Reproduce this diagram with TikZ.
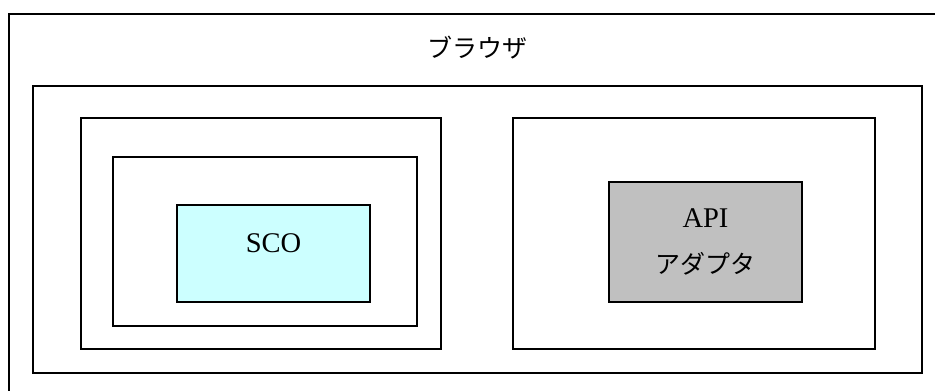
\documentclass[tikz,border=0pt]{standalone}
\usepackage{fontspec}
\setmainfont{Liberation Serif}
\newfontfamily\jpfont{Noto Sans CJK JP}
\definecolor{scofill}{HTML}{CCFFFF}
\definecolor{apifill}{HTML}{C0C0C0}
\begin{document}
\begin{tikzpicture}[x=1pt,y=-1pt,
  frame/.style={draw=black,line width=1.6pt},
  lat/.style={font=\fontsize{28.5}{32}\selectfont},
  jp/.style={font=\jpfont\fontsize{25}{28}\selectfont}]
\useasboundingbox (0,0) rectangle (935,391);
\fill[white] (0,0) rectangle (935,391);
\begin{scope}
\clip (0,0) rectangle (935,391);
\draw[frame] (9,14) rectangle (945,400);
\end{scope}
\node[jp,anchor=center] (browser) at (477,48) {ブラウザ};
\draw[frame] (33,86) rectangle (922,373);
\draw[frame] (81,118) rectangle (441,349);
\draw[frame] (113,157) rectangle (417,326);
\draw[frame,fill=scofill] (177,205) rectangle (370,302);
\node[lat] (sco) at (273.5,243) {SCO};
\draw[frame] (513,118) rectangle (875,349);
\draw[frame,fill=apifill] (609,182) rectangle (802,302);
\node[lat] (api) at (705.5,218) {API};
\node[jp] (adapter) at (705.5,264) {アダプタ};
\end{tikzpicture}
\end{document}
